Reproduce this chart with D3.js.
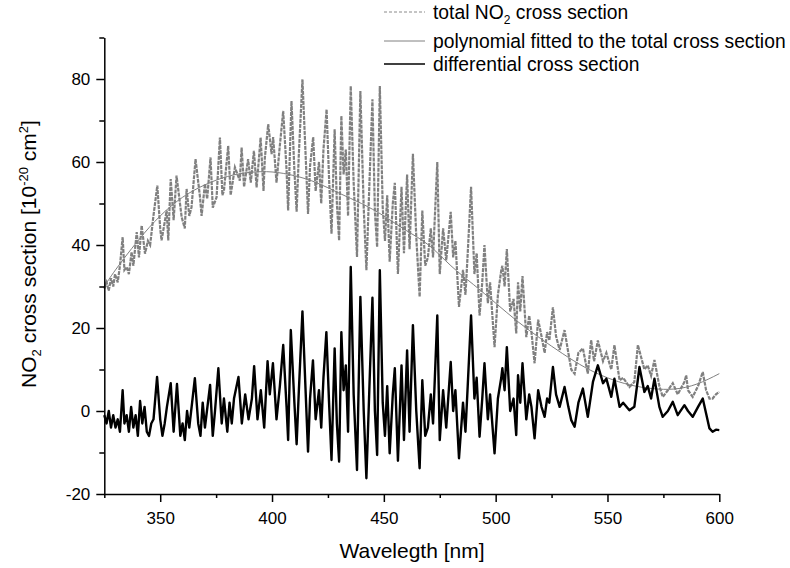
<!DOCTYPE html>
<html>
<head>
<meta charset="utf-8">
<script src="https://cdn.jsdelivr.net/npm/d3@7"></script>
<style>
  body { margin: 0; background: #fff; }
  svg { display: block; font-family: "Liberation Sans", Arial, sans-serif; }
</style>
</head>
<body>
<svg id="chart" width="790" height="568"></svg>
<script>
// wavelength [nm], differential cross section
var diffPoints = [
  [325,-1],[326,-3],[327,0],[328,-4],[329,-1],[330,-4],[331,-2],[332,-5],[333.2,5],[334,-3],[335,-1],[336,-5],
  [337,1],[338,-4],[339,-1],[340,-6],[341,2.4],[342,-3],[343,1],[344,-5],[345,-6],[346,-3],[347,-2],[348.6,8.2],
  [350,-2],[351,-6],[352,-3],[353,1],[354.7,6.7],[356,-5],[357.5,6.5],[359,-6],[360,-3],[361,-7],[362,0],[363,-4],
  [365.5,7.9],[367,-3],[368,-6],[369,2],[370,-4],[372.3,6.3],[373.5,-6],[374.5,0],[376,10.3],[377.5,-3],[378.5,3],
  [380,-5],[381,2],[382,-3],[383,3],[385,8.2],[386.5,-3],[388,4],[389.5,-2],[391,3],[392,10.8],[393.5,-2],[395,5],
  [396.5,-4],[398,12],[399,4],[400.4,11.5],[402,-2],[403.5,6],[405,15.9],[406.5,1],[407.2,-7],[408.4,19.5],[410,2],
  [411,-8],[412,5],[413.6,24],[415,5],[416.1,-9.8],[417,3],[418.3,12.2],[419.5,-2],[421,5],[422,-4],[423,8],
  [424.3,19],[425.5,2],[426.6,-11.8],[428,15.1],[429,-3],[430,-12.2],[431,19],[432,5],[433,11],[434,-5],[435.2,34.7],
  [436.5,4],[438,-14.2],[439.5,27.5],[441,0],[442.2,-16.2],[443.5,5],[444.9,27.3],[446,0],[447,-10.6],[448.2,33.9],
  [449.5,2],[450.5,-6],[451.5,6],[452.6,-10.2],[454,4],[454.9,10.3],[456.3,-12],[457.9,11],[459,-7],[460.4,14.6],
  [461.5,-5],[463,20.7],[464.5,0],[466,-13.8],[467.2,7.4],[468.5,-6],[469.7,-4],[471,4],[472,-3],[473.9,23],[475,-7],
  [476.5,5],[477.9,-4],[479.9,11.8],[481,0],[482,5],[483.6,-11.4],[485.4,2],[486.5,-5],[487.5,6],[489,23],[490.5,3],
  [491.5,8],[492.8,-6.2],[494,3],[495,11.5],[496.5,-2],[497.5,4],[499.5,-10.2],[501,3],[502.5,8],[503,10.3],[504,5],
  [505,15.4],[506.5,0],[508,3],[509.2,-5.8],[510,8.6],[511,2],[512,11.5],[513.7,-2],[515,4],[516,1],[517.4,-6.6],
  [519,5],[520.5,1],[521.9,-1.4],[523,3],[524,2],[525.6,10.6],[527,4],[528.6,1],[530.8,5.8],[532.5,1],[533.8,-2.2],
  [535.3,-3.8],[537,2],[539,5.4],[541.2,-1.4],[543.5,7],[545.7,11],[548,6.7],[549.5,7.8],[551.7,3.4],[553.1,7.8],
  [555.4,1],[557,2],[559.8,0.2],[562,1],[564.3,10.6],[566.5,4.6],[568,6],[569.5,3],[571,7.8],[573.2,1],[574.7,-1.4],
  [577,0],[579.2,2.2],[581.4,-1],[584.4,1.4],[586,0],[588.1,-1.4],[590.5,1],[592.6,3],[594.1,-0.6],[595.6,-4.2],
  [597,-5],[598.5,-4.5],[600,-4.6]
];

// total NO2 cross section
var totalPoints = [
  [325,29.5],[326,31],[327,29],[328,32],[329,30],[329.8,33],[331,31],[332,35],[333.2,41.9],[334,34],[335,34.7],
  [336,33],[337.2,38.3],[338,35],[339.5,43.1],[340.5,37],[341.7,44.7],[343.2,37.9],[344.5,41],[345.5,40],[346.9,46.7],
  [348.7,54.3],[350,44],[350.6,41.1],[352.9,48.3],[353.6,41.1],[354.7,55.9],[356,46],[357.3,56.7],[359.6,46.7],
  [361,44],[361.8,53.5],[363,47],[364,49.1],[365.8,60.7],[367.8,51.5],[368.5,47],[370,54.7],[371,51.1],[372.5,61.1],
  [373.5,49],[375.2,51.5],[376.7,65.9],[377.8,52],[378.5,53.1],[380.4,63.9],[381.5,52],[383.4,58.7],[385.6,55.5],
  [386.4,63.5],[387.5,54],[389.3,60.7],[390.5,55],[391.9,62.7],[393.1,53.9],[394.9,65.9],[396.2,53],[396.8,61.1],
  [398.3,69.1],[399.8,61.9],[400.5,66],[402,55],[403.5,64],[405,72.3],[406.5,58],[407.2,48.3],[408.7,74.7],[410,58],
  [411,48],[412,62],[413.6,79.9],[415,62],[416.1,47.5],[417,59],[418.4,66],[419.5,53],[421,60],[422,50],[423,63],
  [424.4,72.7],[425.5,56],[426.6,42.7],[428,67.9],[429,50],[430,41.1],[431,71.1],[432,57],[433,63],[434,47],
  [435.2,78.3],[436.5,55],[438,37.1],[439.5,77.1],[441,49],[442.2,33.9],[443.5,54],[444.9,75.1],[446,48],[447,39.5],
  [448.2,78.3],[449.5,49],[450.5,41],[451.5,52],[452.6,36],[454,50],[454.9,55],[456.3,33],[457.9,54],[459,38],
  [460.4,57],[461.5,39],[463,62],[464.5,42],[466,27.5],[467.2,48.3],[468.5,35],[469.7,37],[471,44],[472,37],[473.9,60],
  [475,33],[476.5,44],[477.9,36.3],[479.9,48],[481,37],[482,41],[483.6,25.1],[485.4,34],[486.5,28],[487.5,38],[489,54],
  [490.5,33],[491.5,38],[492.8,23],[494,31],[495,40],[496.5,26],[497.5,31],[499.5,15.4],[501,28],[502.5,33.9],[503,35],
  [504,30],[505,39],[506.5,24],[508,27],[509.2,18.7],[510,31],[511,24],[512,32.5],[513.7,17.8],[515,23],[516,19],
  [517.4,11.5],[519,22],[520.5,18],[521.9,14],[523,19],[524,17],[525.6,25],[527,18],[528.6,14.7],[530.8,19.5],
  [532.5,14],[533.8,10],[535.3,9],[537,14],[539,15.1],[541.2,9],[542.7,17.1],[544,12],[545.7,17],[548,12],[549.5,14],
  [551.7,10],[553.1,15.9],[555.4,7.4],[557,8],[559.8,5.8],[562,7],[563.6,15.9],[566.5,10],[568,11],[569.5,8.5],
  [571,12.3],[573.2,6],[574.7,3.4],[577,5],[579.2,6.7],[581.4,4],[584.4,7],[585.2,8.6],[586,5],[588.1,3.4],[590.5,6],
  [592.6,9.4],[594.1,5],[595.6,3],[597,3],[598.5,4],[600,4.6]
];

// polynomial fitted to the total cross section
var polyPoints = [
  [325,30],[330,34],[340,41],[350,47],[360,51.5],[370,54.5],[380,56.5],[390,57.5],[400,57.6],[410,56.7],
  [420,55],[430,52.5],[440,50],[450,47],[460,43.5],[470,40],[480,35],[490,30.5],[500,26],[510,21.5],
  [520,17.5],[530,13.8],[540,10.5],[550,8],[560,6.3],[570,5.4],[580,5.3],[590,6.5],[600,9]
];

var xMajor = [350, 400, 450, 500, 550, 600];
var xMinor = [325, 375, 425, 475, 525, 575];
var yMajor = [-20, 0, 20, 40, 60, 80];
var yMinor = [-10, 10, 30, 50, 70, 90];

var svg = d3.select("#chart");

var x = d3.scaleLinear().domain([325, 600]).range([104.3, 719.3]);
var y = d3.scaleLinear().domain([-20, 90]).range([494, 37.5]);

var line = d3.line()
  .x(function (d) { return x(d[0]); })
  .y(function (d) { return y(d[1]); });

// total spectrum, short-dashed grey
svg.append("path")
  .datum(totalPoints)
  .attr("fill", "none")
  .attr("stroke", "#808080")
  .attr("stroke-width", 2.2)
  .attr("stroke-dasharray", "4,1")
  .attr("d", line);

// fitted polynomial
svg.append("path")
  .datum(polyPoints)
  .attr("fill", "none")
  .attr("stroke", "#808080")
  .attr("stroke-width", 1)
  .attr("d", line.curve(d3.curveNatural));

line.curve(d3.curveLinear);

// differential
svg.append("path")
  .datum(diffPoints)
  .attr("fill", "none")
  .attr("stroke", "#000")
  .attr("stroke-width", 2.4)
  .attr("stroke-linejoin", "round")
  .attr("d", line);

// axes: major + minor ticks
function styleAxis(g) {
  g.selectAll("path, line").attr("stroke", "#000").attr("stroke-width", 1.5);
  g.selectAll("text").attr("fill", "#000").attr("font-size", 17)
    .attr("font-family", "'Liberation Sans', Arial, sans-serif");
}

function plain(d) { return String(d); }  // hyphen minus, as in the figure

var xAxis = svg.append("g")
  .attr("transform", "translate(0,494)")
  .call(d3.axisBottom(x).tickValues(xMajor).tickFormat(plain).tickSize(8).tickSizeOuter(0).tickPadding(10))
  .call(styleAxis);
xAxis.selectAll("text").attr("dy", "0.71em");

svg.append("g")
  .attr("transform", "translate(0,494)")
  .call(d3.axisBottom(x).tickValues(xMinor).tickSize(4).tickFormat(""))
  .call(styleAxis)
  .select(".domain").remove();

svg.append("g")
  .attr("transform", "translate(104.3,0)")
  .call(d3.axisLeft(y).tickValues(yMajor).tickFormat(plain).tickSize(8).tickSizeOuter(0).tickPadding(6))
  .call(styleAxis);

svg.append("g")
  .attr("transform", "translate(104.3,0)")
  .call(d3.axisLeft(y).tickValues(yMinor).tickSize(5).tickFormat(""))
  .call(styleAxis)
  .select(".domain").remove();

// axis titles
svg.append("text")
  .attr("x", 412)
  .attr("y", 558)
  .attr("text-anchor", "middle")
  .attr("font-size", 21)
  .text("Wavelegth [nm]");

var yt = svg.append("text")
  .attr("transform", "translate(36,254) rotate(-90)")
  .attr("text-anchor", "middle")
  .attr("font-size", 21);
yt.append("tspan").text("NO");
yt.append("tspan").attr("font-size", 13).attr("dy", 5).text("2");
yt.append("tspan").attr("dy", -5).text(" cross section [10");
yt.append("tspan").attr("font-size", 13).attr("dy", -8).text("-20");
yt.append("tspan").attr("dy", 8).text(" cm");
yt.append("tspan").attr("font-size", 13).attr("dy", -8).text("2");
yt.append("tspan").attr("dy", 8).text("]");

// legend
var legendRows = [
  { y: 12, color: "#8a8a8a", width: 1, dash: "3,2" },
  { y: 41, color: "#808080", width: 1, dash: null },
  { y: 64, color: "#000", width: 1.5, dash: null }
];

var legend = svg.append("g");
legend.selectAll("line")
  .data(legendRows)
  .enter()
  .append("line")
  .attr("x1", 384)
  .attr("x2", 425)
  .attr("y1", function (d) { return d.y; })
  .attr("y2", function (d) { return d.y; })
  .attr("stroke", function (d) { return d.color; })
  .attr("stroke-width", function (d) { return d.width; })
  .attr("stroke-dasharray", function (d) { return d.dash; });

var t1 = legend.append("text").attr("x", 433).attr("y", 19).attr("font-size", 19.3);
t1.append("tspan").text("total NO");
t1.append("tspan").attr("font-size", 12).attr("dy", 5).text("2");
t1.append("tspan").attr("dy", -5).text(" cross section");

legend.append("text").attr("x", 433).attr("y", 48).attr("font-size", 19.3)
  .text("polynomial fitted to the total cross section");
legend.append("text").attr("x", 433).attr("y", 71).attr("font-size", 19.3)
  .text("differential cross section");
</script>
</body>
</html>
